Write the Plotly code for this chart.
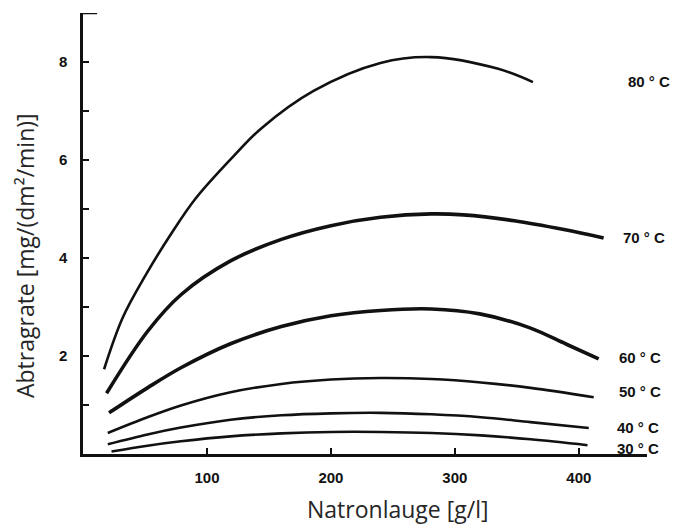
import plotly.graph_objects as go

# Natronlauge concentration [g/l] and Abtragrate [mg/(dm²/min)] per temperature
x80 = [17, 32, 51, 71, 91, 123, 144, 186, 240, 281, 335, 363]
y80 = [1.73, 2.78, 3.67, 4.49, 5.22, 6.12, 6.65, 7.41, 7.98, 8.10, 7.86, 7.59]

x70 = [19, 52, 79, 119, 160, 200, 240, 281, 307, 348, 388, 420]
y70 = [1.24, 2.5, 3.25, 3.94, 4.38, 4.66, 4.83, 4.90, 4.88, 4.76, 4.58, 4.41]

x60 = [21, 52, 79, 119, 160, 200, 240, 281, 320, 360, 390, 416]
y60 = [0.84, 1.35, 1.76, 2.25, 2.60, 2.82, 2.93, 2.96, 2.86, 2.58, 2.24, 1.94]

x50 = [20, 52, 79, 119, 160, 200, 240, 281, 321, 361, 412]
y50 = [0.43, 0.75, 0.99, 1.26, 1.43, 1.52, 1.55, 1.53, 1.46, 1.35, 1.16]

x40 = [20, 52, 79, 119, 160, 200, 240, 281, 321, 361, 408]
y40 = [0.20, 0.40, 0.54, 0.70, 0.79, 0.83, 0.84, 0.81, 0.75, 0.65, 0.53]

x30 = [23, 52, 79, 119, 160, 200, 240, 281, 321, 361, 407]
y30 = [0.05, 0.17, 0.26, 0.36, 0.42, 0.45, 0.45, 0.43, 0.38, 0.30, 0.18]

labels = ["80 ° C", "70 ° C", "60 ° C", "50 ° C", "40 ° C", "30 ° C"]
label_x = [438, 434, 431, 431, 429, 429]
label_y = [7.61, 4.41, 1.96, 1.27, 0.55, 0.12]
widths = [2.6, 3.6, 3.6, 2.6, 2.6, 2.6]
xs_all = [x80, x70, x60, x50, x40, x30]
ys_all = [y80, y70, y60, y50, y40, y30]

x_tickvals = [100, 200, 300, 400]
x_ticktext = ["100", "200", "300", "400"]
y_tickvals = [1, 2, 3, 4, 5, 6, 7, 8]
y_ticktext = ["", "2", "", "4", "", "6", "", "8"]

fig = go.Figure()
annotations = []
for name, xs, ys, w, lx, ly in zip(labels, xs_all, ys_all, widths, label_x, label_y):
    fig.add_trace(go.Scatter(x=xs, y=ys, mode="lines", name=name,
                             line=dict(color="#111111", width=w, shape="spline", smoothing=1.0),
                             showlegend=False, hoverinfo="skip"))
    annotations.append(dict(x=lx, y=ly, xref="x", yref="y", text=name, showarrow=False,
                            xanchor="left", yanchor="middle",
                            font=dict(family="Liberation Sans, Arial", size=15, color="#111111", weight="bold")))

L, R, T, B = 83, 32, 13, 71
W, H = 679, 525
pw, ph = W - L - R, H - T - B

annotations.append(dict(x=(397 - L) / pw, y=(H - B - 509) / ph, xref="paper", yref="paper",
                        text="Natronlauge [g/l]", showarrow=False, xanchor="center", yanchor="middle",
                        font=dict(family="Open Sans", size=23, color="#262626")))
annotations.append(dict(x=(25 - L) / pw, y=(H - B - 256) / ph, xref="paper", yref="paper",
                        text="Abtragrate [mg/(dm²/min)]", showarrow=False, xanchor="center", yanchor="middle",
                        textangle=-90, font=dict(family="Open Sans", size=23, color="#262626")))

fig.update_layout(
    width=W, height=H,
    margin=dict(l=L, r=R, t=T, b=B),
    paper_bgcolor="white", plot_bgcolor="white",
    annotations=annotations,
    shapes=[dict(type="line", xref="paper", yref="y", x0=-0.003, x1=0.025, y0=9, y1=9,
                 line=dict(color="#111111", width=2.5))],
)
fig.update_xaxes(range=[0, 455], showline=True, linecolor="#111111", linewidth=2.5,
                 showgrid=False, zeroline=False, ticks="inside", ticklen=6, tickwidth=2,
                 tickcolor="#111111", tickvals=x_tickvals, ticktext=x_ticktext,
                 ticklabelstandoff=8,
                 tickfont=dict(family="Liberation Sans, Arial", size=15, color="#111111", weight="bold"))
fig.update_yaxes(range=[0, 9], showline=True, linecolor="#111111", linewidth=2.5,
                 showgrid=False, zeroline=False, ticks="inside", ticklen=6, tickwidth=2,
                 tickcolor="#111111", tickvals=y_tickvals, ticktext=y_ticktext,
                 ticklabelstandoff=10,
                 tickfont=dict(family="Liberation Sans, Arial", size=15, color="#111111", weight="bold"))

fig.write_html("out.html")
